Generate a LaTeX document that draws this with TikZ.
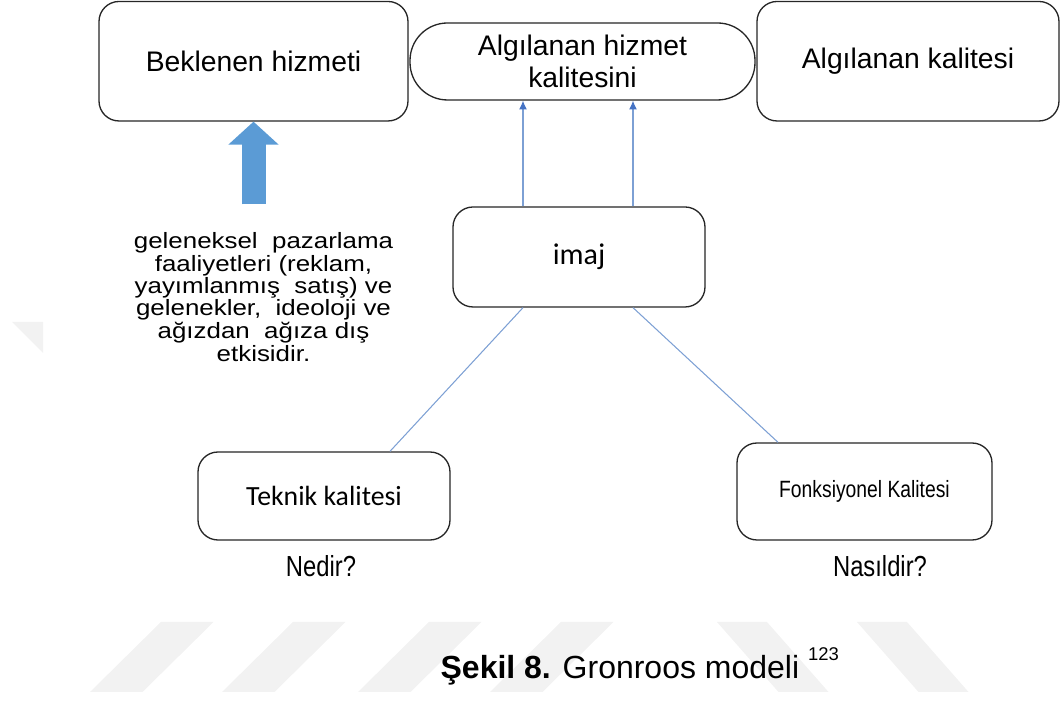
\documentclass[tikz,border=0pt]{standalone}
\usepackage{fontspec}
\setmainfont{Liberation Sans}
\newfontfamily\calibrifont{Carlito}
\newfontfamily\narrowfont[FakeStretch=0.82]{Liberation Sans}
\newfontfamily\widefont[FakeStretch=1.17]{Liberation Sans}
\usetikzlibrary{calc,positioning,arrows.meta}
\definecolor{blockblue}{HTML}{5B9BD5}
\definecolor{linkblue}{HTML}{7DA0D4}
\definecolor{tipblue}{HTML}{4472C4}
\definecolor{markgrey}{HTML}{F2F2F2}

\begin{document}
\begin{tikzpicture}[
	align=center,
	>=Latex,
	line width=0.75pt,
	roundbox/.style={
		draw=black!85,
		fill=white,
		rounded corners=0.4cm,
		inner sep=0pt,
		font=\fontsize{16.1}{18.5}\selectfont
	},
	pillbox/.style={roundbox, rounded corners=0.75cm},
	plain/.style={inner sep=0pt},
	link/.style={draw=linkblue, line width=0.6pt},
	uparrow/.style={link, -{Latex[length=5pt, width=4.5pt, color=tipblue]}},
	bigarrow/.style={draw=blockblue, line width=0.48cm, -{Triangle[length=0.46cm, width=0.98cm]}},
	watermark/.style={fill=markgrey, draw=none}
	]
    \useasboundingbox (0,0) rectangle (21.24,14.04);

    % watermark
    \foreach \x in {1.8,4.44,7.16,9.8}
        \fill[watermark] (\x,0.2) -- ++(1.05,0) -- ++(1.42,1.4) -- ++(-1.05,0) -- cycle;
    \foreach \x in {14.34,17.14}
        \fill[watermark] (\x,1.6) -- ++(1,0) -- ++(1.23,-1.4) -- ++(-1,0) -- cycle;
    \fill[watermark] (0.24,7.6) -- (0.86,7.6) -- (0.86,6.98) -- cycle;

    % top row
    \node[roundbox, minimum width=6.18cm, minimum height=2.39cm] at (5.07,12.815) (expected) {Beklenen hizmeti};
    \node[pillbox, minimum width=6.9cm, minimum height=1.54cm] at (11.65,12.81) (service) {Algılanan hizmet\\kalitesini};
    \node[roundbox, minimum width=6.04cm, minimum height=2.39cm] at (18.16,12.815) (perceived) {Algılanan kalitesi};

    % image
    \node[roundbox, minimum width=5.04cm, minimum height=2cm, font=\calibrifont\fontsize{17.1}{20}\selectfont] at (11.58,8.9) (image) {imaj};
    \draw[uparrow] ([xshift=-1.12cm]image.north) -- ([xshift=-1.12cm]image.north |- service.south);
    \draw[uparrow] ([xshift=1.08cm]image.north) -- ([xshift=1.08cm]image.north |- service.south);

    % traditional marketing
    \node[plain, font=\widefont\fontsize{12.6}{11.5}\selectfont] at (5.27,8.1) (tradition) {geleneksel\ \ pazarlama\\faaliyetleri (reklam,\\yayımlanmış\ \ satış) ve\\gelenekler,\ \ ideoloji ve\\ağızdan\ \ ağıza dış\\etkisidir.};
    \draw[bigarrow, shorten <=0.55cm] (tradition.north -| expected.south) -- (expected.south);

    % quality dimensions
    \node[roundbox, minimum width=5.04cm, minimum height=1.76cm, font=\calibrifont\fontsize{15.8}{19}\selectfont] at (6.48,4.12) (technical) {Teknik kalitesi};
    \node[roundbox, minimum width=5.1cm, minimum height=1.94cm, font=\narrowfont\fontsize{13.4}{16}\selectfont] at (17.29,4.21) (functional) {Fonksiyonel Kalitesi};
    \node[plain, font=\narrowfont\fontsize{16.5}{19}\selectfont] at (6.42,2.72) (what) {Nedir?};
    \node[plain, font=\narrowfont\fontsize{16.5}{19}\selectfont] at (17.6,2.72) (how) {Nasıldir?};
    \draw[link] ([xshift=-1.12cm]image.south) -- ([xshift=1.32cm]technical.north);
    \draw[link] ([xshift=1.08cm]image.south) -- ([xshift=-1.73cm]functional.north);

    % caption
    \node[plain, anchor=base west, font=\fontsize{18.2}{22}\selectfont] at (8.8,0.46) (caption) {\textbf{Şekil 8.} Gronroos modeli \raisebox{1.1ex}{\fontsize{10.5}{12}\selectfont 123}};

\end{tikzpicture}
\end{document}
